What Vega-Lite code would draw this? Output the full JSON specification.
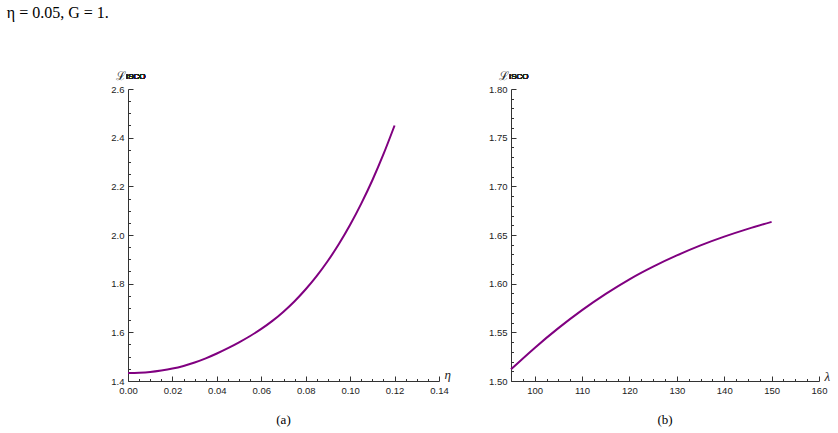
{
  "$schema": "https://vega.github.io/schema/vega-lite/v6.json",
  "background": "white",
  "padding": {"left": 6, "top": 5, "right": 5, "bottom": 5},
  "title": {"text": "η = 0.05, G = 1.", "anchor": "start", "font": "Liberation Serif", "fontSize": 16, "fontWeight": "normal", "color": "black", "dx": -104, "offset": 48},
  "bounds": "flush",
  "spacing": 72,
  "config": {
    "view": {"stroke": null},
    "axis": {
      "grid": false,
      "domainColor": "#333",
      "tickColor": "#333",
      "tickWidth": 1,
      "tickCount": 200,
      "labelFont": "Liberation Sans Narrow, Liberation Sans",
      "labelFontSize": 9.5,
      "labelColor": "#222",
      "labelOverlap": false,
      "labelFlush": false,
      "titleColor": "#222",
      "titleFontWeight": "normal"
    },
    "title": {"font": "Liberation Serif", "fontWeight": "normal", "color": "black"}
  },
  "hconcat": [
    {
      "width": 311,
      "height": 292,
      "title": {"text": "(a)", "orient": "bottom", "fontSize": 13, "offset": 17},
      "data": {"values": [
        {"eta": 0.000, "L": 1.433}, {"eta": 0.005, "L": 1.434}, {"eta": 0.010, "L": 1.437},
        {"eta": 0.015, "L": 1.443}, {"eta": 0.020, "L": 1.451}, {"eta": 0.025, "L": 1.462},
        {"eta": 0.030, "L": 1.476}, {"eta": 0.035, "L": 1.493}, {"eta": 0.040, "L": 1.513},
        {"eta": 0.045, "L": 1.535}, {"eta": 0.050, "L": 1.559}, {"eta": 0.055, "L": 1.585},
        {"eta": 0.060, "L": 1.614}, {"eta": 0.065, "L": 1.647}, {"eta": 0.070, "L": 1.685},
        {"eta": 0.075, "L": 1.728}, {"eta": 0.080, "L": 1.777}, {"eta": 0.085, "L": 1.832},
        {"eta": 0.090, "L": 1.894}, {"eta": 0.095, "L": 1.964}, {"eta": 0.100, "L": 2.042},
        {"eta": 0.105, "L": 2.129}, {"eta": 0.110, "L": 2.225}, {"eta": 0.115, "L": 2.332},
        {"eta": 0.120, "L": 2.450}
      ]},
      "layer": [
        {
          "mark": {"type": "line", "color": "#800080", "strokeWidth": 2, "interpolate": "monotone"},
          "encoding": {
            "x": {"field": "eta", "type": "quantitative",
              "scale": {"domain": [0, 0.14], "nice": false, "zero": false},
              "axis": {
                "values": [0,0.005,0.01,0.015,0.02,0.025,0.03,0.035,0.04,0.045,0.05,0.055,0.06,0.065,0.07,0.075,0.08,0.085,0.09,0.095,0.1,0.105,0.11,0.115,0.12,0.125,0.13,0.135,0.14],
                "tickCount": 200,
                "labelExpr": "abs(datum.value/0.02 - round(datum.value/0.02)) < 0.01 ? format(datum.value, '.2f') : ''",
                "tickSize": {"condition": {"test": "abs(datum.value/0.02 - round(datum.value/0.02)) < 0.01", "value": -5}, "value": -2.5},
                "labelPadding": 9,
                "labelOverlap": false,
                "title": "η", "titleX": 316, "titleY": -3, "titleAlign": "left", "titleBaseline": "alphabetic",
                "titleFont": "Liberation Serif", "titleFontStyle": "italic", "titleFontSize": 13
              }},
            "y": {"field": "L", "type": "quantitative",
              "scale": {"domain": [1.4, 2.6], "nice": false, "zero": false},
              "axis": {
                "values": [1.4,1.45,1.5,1.55,1.6,1.65,1.7,1.75,1.8,1.85,1.9,1.95,2.0,2.05,2.1,2.15,2.2,2.25,2.3,2.35,2.4,2.45,2.5,2.55,2.6],
                "tickCount": 200,
                "labelExpr": "abs(datum.value/0.2 - round(datum.value/0.2)) < 0.01 ? format(datum.value, '.1f') : ''",
                "tickSize": {"condition": {"test": "abs(datum.value/0.2 - round(datum.value/0.2)) < 0.01", "value": -5}, "value": -2.5},
                "labelPadding": 9,
                "labelOverlap": false,
                "title": "ℒ", "titleAngle": 0, "titleX": -3, "titleY": -10, "titleAlign": "right", "titleBaseline": "alphabetic",
                "titleFont": "DejaVu Serif", "titleFontSize": 12
              }}
          }
        },
        {
          "mark": {"type": "text", "text": "ISCO", "font": "Liberation Sans Narrow, Liberation Sans", "fontSize": 8, "align": "left", "baseline": "alphabetic", "dx": -2, "dy": -10, "color": "#222"},
          "encoding": {"x": {"datum": 0}, "y": {"datum": 2.6}}
        }
      ]
    },
    {
      "width": 308,
      "height": 292,
      "title": {"text": "(b)", "orient": "bottom", "fontSize": 13, "offset": 17},
      "data": {"values": [
        {"lam": 95, "L": 1.512}, {"lam": 100, "L": 1.534}, {"lam": 105, "L": 1.5543},
        {"lam": 110, "L": 1.5728}, {"lam": 115, "L": 1.5895}, {"lam": 120, "L": 1.6045},
        {"lam": 125, "L": 1.6175}, {"lam": 130, "L": 1.629}, {"lam": 135, "L": 1.6393},
        {"lam": 140, "L": 1.6483}, {"lam": 145, "L": 1.6563}, {"lam": 150, "L": 1.6635}
      ]},
      "layer": [
        {
          "mark": {"type": "line", "color": "#800080", "strokeWidth": 2, "interpolate": "monotone"},
          "encoding": {
            "x": {"field": "lam", "type": "quantitative",
              "scale": {"domain": [95, 160], "nice": false, "zero": false},
              "axis": {
                "values": [95,97.5,100,102.5,105,107.5,110,112.5,115,117.5,120,122.5,125,127.5,130,132.5,135,137.5,140,142.5,145,147.5,150,152.5,155,157.5,160],
                "tickCount": 200,
                "labelExpr": "abs(datum.value/10 - round(datum.value/10)) < 0.01 ? format(datum.value, 'd') : ''",
                "tickSize": {"condition": {"test": "abs(datum.value/10 - round(datum.value/10)) < 0.01", "value": -5}, "value": -2.5},
                "labelPadding": 9,
                "labelOverlap": false,
                "title": "λ", "titleX": 313, "titleY": -1, "titleAlign": "left", "titleBaseline": "alphabetic",
                "titleFont": "Liberation Serif", "titleFontStyle": "italic", "titleFontSize": 13
              }},
            "y": {"field": "L", "type": "quantitative",
              "scale": {"domain": [1.5, 1.8], "nice": false, "zero": false},
              "axis": {
                "values": [1.5,1.51,1.52,1.53,1.54,1.55,1.56,1.57,1.58,1.59,1.6,1.61,1.62,1.63,1.64,1.65,1.66,1.67,1.68,1.69,1.7,1.71,1.72,1.73,1.74,1.75,1.76,1.77,1.78,1.79,1.8],
                "tickCount": 200,
                "labelExpr": "abs(datum.value/0.05 - round(datum.value/0.05)) < 0.01 ? format(datum.value, '.2f') : ''",
                "tickSize": {"condition": {"test": "abs(datum.value/0.05 - round(datum.value/0.05)) < 0.01", "value": -5}, "value": -2.5},
                "labelPadding": 9,
                "labelOverlap": false,
                "title": "ℒ", "titleAngle": 0, "titleX": -3, "titleY": -10, "titleAlign": "right", "titleBaseline": "alphabetic",
                "titleFont": "DejaVu Serif", "titleFontSize": 12
              }}
          }
        },
        {
          "mark": {"type": "text", "text": "ISCO", "font": "Liberation Sans Narrow, Liberation Sans", "fontSize": 8, "align": "left", "baseline": "alphabetic", "dx": -2, "dy": -10, "color": "#222"},
          "encoding": {"x": {"datum": 95}, "y": {"datum": 1.8}}
        }
      ]
    }
  ]
}
